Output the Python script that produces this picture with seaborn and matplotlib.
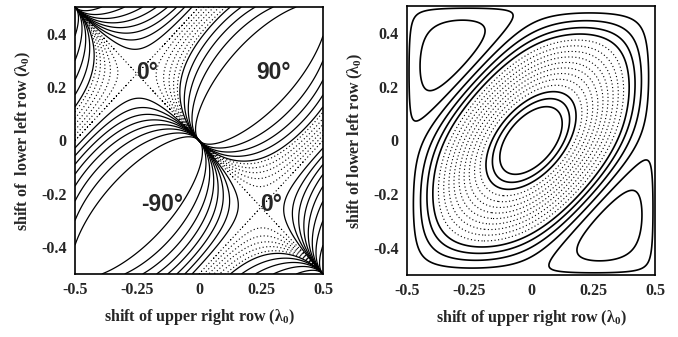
import numpy as np
import matplotlib
matplotlib.use("Agg")
import matplotlib.pyplot as plt
import seaborn as sns
from matplotlib.ticker import MultipleLocator

# shift of the two outer rows (in lambda_0)
shift_upper_right = np.linspace(-0.5, 0.5, 601)
shift_lower_left = np.linspace(-0.5, 0.5, 601)

# contour levels, degrees (left) and normalised intensity (right)
phase_levels_solid = [-80, -70, -60, -50, -40, -30, -20, -10, 40, 50, 60, 70, 80]
phase_levels_dotted = [0, 7, 14, 21, 28, 35]
intensity_levels_solid = [0.05, 0.10, 0.15, 0.20, 0.25, 0.30, 0.80, 0.85, 0.90]
intensity_levels_dotted = [0.35, 0.40, 0.45, 0.50, 0.55, 0.60, 0.65, 0.70, 0.75]

x_ticks = [-0.5, -0.25, 0, 0.25, 0.5]
x_tick_labels = ["-0.5", "-0.25", "0", "0.25", "0.5"]
y_ticks = [-0.4, -0.2, 0, 0.2, 0.4]
y_tick_labels = ["-0.4", "-0.2", "0", "0.2", "0.4"]

region_labels = ["0°", "90°", "-90°", "0°"]
region_x = [-0.21, 0.30, -0.15, 0.29]
region_y = [0.255, 0.255, -0.24, -0.24]

# field of three rows: centre row fixed, outer rows shifted
X, Y = np.meshgrid(shift_upper_right, shift_lower_left)
a = 2 * np.pi * X
b = 2 * np.pi * Y
field = 1 + np.exp(1j * a) + np.exp(1j * b)
intensity = np.abs(field) ** 2 / 9.0
phase = np.degrees(np.arctan2(np.sin(a) + np.sin(b), np.sin(np.pi * (X - Y)) ** 2))

sns.set_style("white")
plt.rcParams["font.family"] = ["Liberation Serif", "DejaVu Serif"]
plt.rcParams["mathtext.fontset"] = "custom"
plt.rcParams["mathtext.rm"] = "Liberation Serif:bold"
plt.rcParams["mathtext.it"] = "Liberation Serif:bold"

fig = plt.figure(figsize=(6.78, 3.37), dpi=100)
ax1 = fig.add_axes([75 / 678, 63 / 337, 248 / 678, 267 / 337])
ax2 = fig.add_axes([407 / 678, 62 / 337, 248 / 678, 269 / 337])

dots = [(0, (1.0, 2.2))]
ax1.contour(X, Y, phase, levels=phase_levels_solid, colors="black",
            linewidths=0.9, linestyles="solid")
ax1.contour(X, Y, phase, levels=phase_levels_dotted, colors="black",
            linewidths=0.8, linestyles=dots)
for txt, tx, ty in zip(region_labels, region_x, region_y):
    ax1.text(tx, ty, txt, ha="center", va="center", fontsize=16.5,
             fontweight="bold", family=["Liberation Sans", "DejaVu Sans"])

ax2.contour(X, Y, intensity, levels=intensity_levels_solid, colors="black",
            linewidths=1.2, linestyles="solid")
ax2.contour(X, Y, intensity, levels=intensity_levels_dotted, colors="black",
            linewidths=0.8, linestyles=dots)

for ax in (ax1, ax2):
    ax.set_xlim(-0.5, 0.5)
    ax.set_ylim(-0.5, 0.5)
    ax.set_xticks(x_ticks)
    ax.set_xticklabels(x_tick_labels)
    ax.set_yticks(y_ticks)
    ax.set_yticklabels(y_tick_labels)
    ax.xaxis.set_minor_locator(MultipleLocator(0.05))
    ax.yaxis.set_minor_locator(MultipleLocator(0.05))
    ax.tick_params(which="both", direction="in", top=False, right=False,
                   labelsize=11.5, width=1, pad=6)
    ax.tick_params(which="major", length=9)
    ax.tick_params(which="minor", length=5)
    for lab in ax.get_xticklabels() + ax.get_yticklabels():
        lab.set_fontweight("bold")
    for sp in ax.spines.values():
        sp.set_linewidth(1.2)
        sp.set_color("black")
    ax.set_xlabel(r"shift of upper right row ($\lambda_0$)", fontsize=11.5,
                  fontweight="bold", labelpad=6)

ax1.set_ylabel(r"shift of  lower left row ($\lambda_0$)", fontsize=11.5,
               fontweight="bold", labelpad=6)
ax2.set_ylabel(r"shift of lower left row ($\lambda_0$)", fontsize=11.5,
               fontweight="bold", labelpad=6)

fig.savefig("out.png", dpi=100, facecolor="white")
